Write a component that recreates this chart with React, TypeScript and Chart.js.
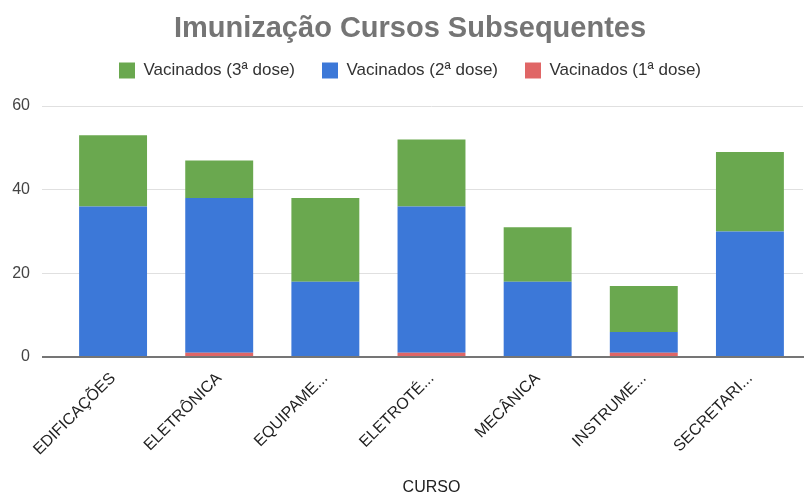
import React, { useEffect, useRef } from "react";
import { Chart, registerables } from "chart.js";

Chart.register(...registerables);

const categories = [
  "EDIFICAÇÕES",
  "ELETRÔNICA",
  "EQUIPAME...",
  "ELETROTÉ...",
  "MECÂNICA",
  "INSTRUME...",
  "SECRETARI...",
];
const dose1 = [0, 1, 0, 1, 0, 1, 0];
const dose2 = [36, 37, 18, 35, 18, 5, 30];
const dose3 = [17, 9, 20, 16, 13, 11, 19];
const yTicks = [0, 20, 40, 60];

const FONT = "'Liberation Sans', Arial, Helvetica, sans-serif";

export default function App() {
  const ref = useRef<HTMLCanvasElement | null>(null);

  useEffect(() => {
    document.body.style.margin = "0";
    const canvas = ref.current;
    if (!canvas) return;
    const chart = new Chart(canvas, {
      type: "bar",
      data: {
        labels: categories,
        datasets: [
          {
            label: "Vacinados (1ª dose)",
            data: dose1,
            backgroundColor: "#e06666",
            barPercentage: 0.64,
            categoryPercentage: 1,
          },
          {
            label: "Vacinados (2ª dose)",
            data: dose2,
            backgroundColor: "#3c78d8",
            barPercentage: 0.64,
            categoryPercentage: 1,
          },
          {
            label: "Vacinados (3ª dose)",
            data: dose3,
            backgroundColor: "#6aa84f",
            barPercentage: 0.64,
            categoryPercentage: 1,
          },
        ],
      },
      options: {
        responsive: false,
        animation: false,
        layout: { padding: { top: 22, right: 0, left: 10, bottom: 0 } },
        plugins: {
          title: {
            display: true,
            text: "Imunização Cursos Subsequentes",
            color: "#757575",
            font: { family: FONT, size: 29, weight: "bold", lineHeight: 13 / 29 },
            padding: 0,
          },
          subtitle: {
            display: true,
            text: " ",
            position: "top",
            weight: 500,
            font: { family: FONT, size: 1, lineHeight: 1 },
            padding: { top: 16, bottom: 0 },
          } as any,
          legend: {
            display: true,
            reverse: true,
            labels: {
              color: "#333333",
              font: { family: FONT, size: 17 },
              boxWidth: 16,
              boxHeight: 16,
              padding: 27,
            },
          },
          tooltip: { enabled: false },
        },
        scales: {
          x: {
            stacked: true,
            afterFit: (s: any) => {
              s.height = 140;
            },
            grid: { display: false, drawTicks: false },
            border: { display: true, color: "#757575", width: 2 },
            ticks: {
              color: "#222222",
              font: { family: FONT, size: 16 },
              maxRotation: 45,
              minRotation: 45,
              autoSkip: false,
              padding: 12,
            },
            title: {
              display: true,
              text: "CURSO",
              color: "#222222",
              font: { family: FONT, size: 16 },
              padding: { top: 0, bottom: 0 },
            },
          },
          y: {
            stacked: true,
            min: 0,
            max: 60,
            afterFit: (s: any) => {
              s.width = 50;
            },
            afterBuildTicks: (s: any) => {
              s.ticks = yTicks.map((v) => ({ value: v }));
            },
            border: { display: false },
            grid: {
              color: (c: any) => (c.tick && c.tick.value === 0 ? "#757575" : "#e0e0e0"),
              lineWidth: (c: any) => (c.tick && c.tick.value === 0 ? 2 : 1),
              tickLength: 18,
              drawTicks: true,
            },
            ticks: {
              color: "#444444",
              font: { family: FONT, size: 16 },
              padding: 12,
            },
          },
          yRight: {
            position: "right",
            display: true,
            afterFit: (s: any) => {
              s.width = 7;
            },
            grid: { display: false, drawTicks: false },
            border: { display: false },
            ticks: { display: false },
          },
        },
      },
    });
    return () => chart.destroy();
  }, []);

  return (
    <div style={{ width: 810, height: 497 }}>
      <canvas ref={ref} width={810} height={497} style={{ display: "block" }} />
    </div>
  );
}
